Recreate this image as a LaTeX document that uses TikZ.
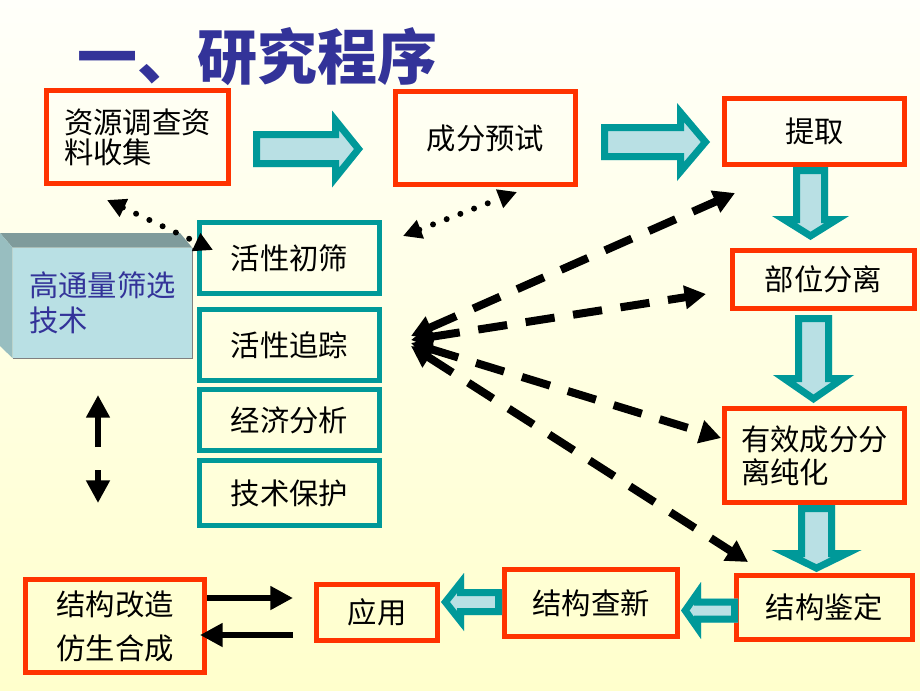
\documentclass[tikz,border=0pt]{standalone}
\usepackage{fontspec}
\setmainfont{Noto Sans CJK SC}
\usetikzlibrary{arrows.meta}

\definecolor{redline}{RGB}{255,51,0}
\definecolor{tealline}{RGB}{0,153,153}
\definecolor{paleblue}{RGB}{185,224,228}
\definecolor{titleblue}{RGB}{51,51,153}
\definecolor{boxtop}{RGB}{127,155,155}
\definecolor{boxside}{RGB}{152,190,192}
\definecolor{bgtop}{RGB}{255,255,250}
\definecolor{bgbottom}{RGB}{255,255,204}

\newcommand{\boxfont}{\fontsize{22}{30}\selectfont}

\tikzset{
  sz/.style 2 args={minimum width=#1*0.75pt, minimum height=#2*0.75pt},
  redbox/.style={draw=redline, line width=3.75pt, inner sep=0pt, align=center, font=\boxfont},
  tealbox/.style={draw=tealline, line width=3.75pt, inner sep=0pt, align=center, font=\boxfont},
  dasharr/.style={line width=6pt, dash pattern=on 22pt off 14pt,
    {Triangle[length=16pt,width=17pt]}-{Triangle[length=16pt,width=17pt]}},
  dotarr/.style={line width=4.5pt, line cap=round, dash pattern=on 0pt off 11pt,
    {Triangle[length=14pt,width=14pt]}-{Triangle[length=14pt,width=14pt]}},
  solidarr/.style={line width=5pt, -{Triangle[length=17pt,width=17pt]}},
  % hollow block arrow: length, head length, head half width, shaft half width
  pics/tealarr/.style n args={4}{code={
    \fill[paleblue] (0,-#4) -- ({#1-#2},-#4) -- ({#1-#2},-#3) -- (#1,0) -- ({#1-#2},#3) -- ({#1-#2},#4) -- (0,#4) -- cycle;
    \begin{scope}
      \clip (0,-#4) -- ({#1-#2},-#4) -- ({#1-#2},-#3) -- (#1,0) -- ({#1-#2},#3) -- ({#1-#2},#4) -- (0,#4) -- cycle;
      \draw[tealline, line width=10.5pt] (0,-#4) -- ({#1-#2},-#4) -- ({#1-#2},-#3) -- (#1,0) -- ({#1-#2},#3) -- ({#1-#2},#4) -- (0,#4) -- cycle;
    \end{scope}
  }}
}

\begin{document}
\begin{tikzpicture}[x=0.75pt,y=0.75pt,yscale=-1]
%background
\fill[top color=bgtop, bottom color=bgbottom] (0,0) rectangle (920,690);
\useasboundingbox (0,0) rectangle (920,690);

% Title
\node[anchor=west, inner sep=0pt, text=titleblue, font=\fontsize{45}{45}\selectfont\bfseries] (title) at (77,57) {一、研究程序};

% Main procedure boxes
\node[redbox, sz={182}{93}, align=left, font=\fontsize{22}{22.5}\selectfont] (survey) at (137.5,137) {资源调查资\\料收集};
\node[redbox, sz={180}{93}] (pretest) at (485.5,138) {成分预试};
\node[redbox, sz={180}{66}] (extract) at (814.5,131.5) {提取};
\node[redbox, sz={182}{58}] (part) at (823.5,279.5) {部位分离};
\node[redbox, sz={180}{94}, align=left, font=\fontsize{22}{24.5}\selectfont] (purify) at (814.5,455.5) {有效成分分\\离纯化};
\node[redbox, sz={176}{64}] (ident) at (824.5,607.5) {结构鉴定};
\node[redbox, sz={173}{67}] (search) at (591,603) {结构查新};
\node[redbox, sz={121}{56}] (apply) at (377,612.5) {应用};
\node[redbox, sz={179}{93}, font=\fontsize{22}{33}\selectfont] (modify) at (115,626) {结构改造\\仿生合成};

% Screening column
\node[tealbox, sz={180}{71}] (screen) at (289.5,258) {活性初筛};
\node[tealbox, sz={180}{71}] (track) at (289.5,345) {活性追踪};
\node[tealbox, sz={180}{61}] (econ) at (289.5,420) {经济分析};
\node[tealbox, sz={180}{65}] (patent) at (289.5,493) {技术保护};

% High throughput block
\node[fill=paleblue, sz={179}{110}, inner sep=0pt, align=left, text=titleblue, font=\fontsize{22}{26}\selectfont] (hts) at (102.5,303) {高通量筛选\\技术};
\fill[boxtop] (hts.north west) -- (0,233) -- (180,233) -- (hts.north east) -- cycle;
\fill[boxside] (hts.north west) -- (0,233) -- (0,346) -- (hts.south west) -- cycle;
\draw[gray, line width=0.75pt] (hts.north east) -- (hts.south east) -- (hts.south west);

% Block arrows
\pic at (253,149) {tealarr={110}{31}{38.5}{18}};
\pic at (601,142) {tealarr={109}{33}{39}{18}};
\pic[rotate=-90] at (810.5,167) {tealarr={73}{24}{38.5}{17.5}};
\pic[rotate=-90] at (813.5,315) {tealarr={88}{28}{40.5}{18.5}};
\pic[rotate=-90] at (816.5,505) {tealarr={67}{22}{45}{18.5}};
\pic[rotate=180] at (738,610.5) {tealarr={57}{20}{28.5}{12}};
\pic[rotate=180] at (502,602) {tealarr={61}{23}{29}{13}};

% Dotted links
\coordinate (d1a) at (107,200);
\coordinate (d1b) at (213,250);
\coordinate (d2a) at (403,236);
\coordinate (d2b) at (517,192);
\draw[dotarr] (d1a) -- (d1b);
\draw[dotarr] (d2a) -- (d2b);

% Dashed links from activity tracking
\coordinate (hub1) at (411,336);
\coordinate (hub2) at (411,340);
\coordinate (hub3) at (411,343);
\coordinate (hub4) at (411,346);
\coordinate (to1) at (735,193);
\coordinate (to2) at (706,294);
\coordinate (to3) at (721,438);
\coordinate (to4) at (748,562);
\draw[dasharr] (hub1) -- (to1);
\draw[dasharr] (hub2) -- (to2);
\draw[dasharr] (hub3) -- (to3);
\draw[dasharr] (hub4) -- (to4);

% Up and down arrows
\coordinate (u1) at (98,447);
\coordinate (u2) at (98,395);
\coordinate (w1) at (98,470);
\coordinate (w2) at (98,503);
\draw[solidarr] (u1) -- (u2);
\draw[solidarr] (w1) -- (w2);

% Exchange arrows
\coordinate (e1) at (207,598);
\coordinate (e2) at (293,598);
\coordinate (e3) at (293,635);
\coordinate (e4) at (200,635);
\draw[solidarr] (e1) -- (e2);
\draw[solidarr] (e3) -- (e4);
\end{tikzpicture}
\end{document}
